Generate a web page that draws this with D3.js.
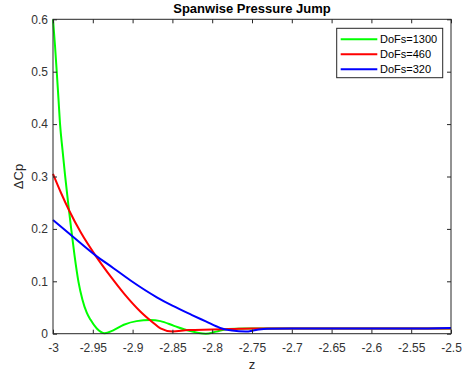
<!DOCTYPE html>
<html>
<head>
<meta charset="utf-8">
<script src="https://cdn.jsdelivr.net/npm/d3@7"></script>
<style>
  html, body { margin: 0; padding: 0; background: #fff; }
  svg { display: block; font-family: "Liberation Sans", Arial, Helvetica, sans-serif; }
</style>
</head>
<body>
<svg id="chart" width="462" height="374"></svg>
<script>
// ---- data ----
const zGreen   = [-3.000, -2.9975, -2.9953, -2.9932, -2.9912, -2.988, -2.9849, -2.9807, -2.9773, -2.973, -2.968, -2.963, -2.9576, -2.953, -2.945, -2.935, -2.925, -2.911, -2.895, -2.878, -2.865, -2.848, -2.83, -2.808, -2.795, -2.78, -2.76, -2.7, -2.65, -2.6, -2.55, -2.5];
const dcpGreen = [0.600, 0.550, 0.500, 0.450, 0.401, 0.350, 0.303, 0.246, 0.202, 0.150, 0.099, 0.065, 0.040, 0.027, 0.010, 0.001, 0.006, 0.017, 0.024, 0.026, 0.024, 0.015, 0.006, 0.000, 0.004, 0.009, 0.010, 0.010, 0.010, 0.010, 0.010, 0.010];

const zRed   = [-3.000, -2.99, -2.98, -2.965, -2.947, -2.926, -2.911, -2.89, -2.875, -2.865, -2.85, -2.83, -2.8, -2.775, -2.75, -2.7, -2.65, -2.6, -2.55, -2.5];
const dcpRed = [0.305, 0.269, 0.236, 0.193, 0.150, 0.106, 0.077, 0.042, 0.022, 0.010, 0.004, 0.007, 0.008, 0.009, 0.010, 0.010, 0.010, 0.010, 0.010, 0.010];

const zBlue   = [-3.000, -2.976, -2.947, -2.924, -2.903, -2.869, -2.85, -2.826, -2.808, -2.79, -2.775, -2.758, -2.745, -2.731, -2.7, -2.65, -2.6, -2.55, -2.5];
const dcpBlue = [0.217, 0.1865, 0.150, 0.125, 0.102, 0.069, 0.0535, 0.036, 0.0235, 0.011, 0.006, 0.004, 0.007, 0.0095, 0.010, 0.010, 0.010, 0.010, 0.011];

const seriesNames  = ["DoFs=1300", "DoFs=460", "DoFs=320"];
const seriesColors = ["#00ff00", "#ff0000", "#0000ff"];

const xTickValues = [-3, -2.95, -2.9, -2.85, -2.8, -2.75, -2.7, -2.65, -2.6, -2.55, -2.5];
const xTickLabels = ["-3", "-2.95", "-2.9", "-2.85", "-2.8", "-2.75", "-2.7", "-2.65", "-2.6", "-2.55", "-2.5"];
const yTickValues = [0, 0.1, 0.2, 0.3, 0.4, 0.5, 0.6];
const yTickLabels = ["0", "0.1", "0.2", "0.3", "0.4", "0.5", "0.6"];

const titleText = "Spanwise Pressure Jump";
const xLabelText = "z";
const yLabelText = "\u0394Cp";

// ---- layout ----
const L = 53, R = 451, T = 19.3, B = 333.7;
const axisColor = "#262626";

const svg = d3.select("#chart");
const x = d3.scaleLinear().domain([-3, -2.5]).range([L, R]);
const y = d3.scaleLinear().domain([0, 0.6]).range([B, T]);

svg.append("rect").attr("x", L).attr("y", T).attr("width", R - L).attr("height", B - T).attr("fill", "#fff");

// curves
const series = [
  { z: zGreen, v: dcpGreen },
  { z: zRed,   v: dcpRed },
  { z: zBlue,  v: dcpBlue }
];
const line = d3.line().x(d => x(d[0])).y(d => y(d[1])).curve(d3.curveMonotoneX);
const plot = svg.append("g");
series.forEach((s, i) => {
  plot.append("path")
    .datum(s.z.map((zz, k) => [zz, s.v[k]]))
    .attr("d", line)
    .attr("fill", "none")
    .attr("stroke", seriesColors[i])
    .attr("stroke-width", 2)
    .attr("stroke-linejoin", "round");
});

// axes
function styleAxis(g) {
  g.select(".domain").remove();
  g.selectAll(".tick line").attr("stroke", axisColor).attr("stroke-width", 1);
  g.selectAll(".tick text").attr("fill", "#333").style("font-size", "12px");
}
svg.append("g").attr("transform", `translate(0,${B})`)
  .call(d3.axisBottom(x).tickValues(xTickValues).tickFormat((d, i) => xTickLabels[i]).tickSizeInner(-4).tickSizeOuter(0).tickPadding(10))
  .call(styleAxis);
svg.append("g").attr("transform", `translate(0,${T})`)
  .call(d3.axisTop(x).tickValues(xTickValues).tickFormat("").tickSizeInner(-4).tickSizeOuter(0))
  .call(styleAxis);
svg.append("g").attr("transform", `translate(${L},0)`)
  .call(d3.axisLeft(y).tickValues(yTickValues).tickFormat((d, i) => yTickLabels[i]).tickSizeInner(-4).tickSizeOuter(0).tickPadding(5))
  .call(styleAxis);
svg.append("g").attr("transform", `translate(${R},0)`)
  .call(d3.axisRight(y).tickValues(yTickValues).tickFormat("").tickSizeInner(-4).tickSizeOuter(0))
  .call(styleAxis);

// box
svg.append("rect").attr("x", L).attr("y", T).attr("width", R - L).attr("height", B - T)
  .attr("fill", "none").attr("stroke", axisColor).attr("stroke-width", 1);

// title & labels
svg.append("text").attr("x", (L + R) / 2).attr("y", 13).attr("text-anchor", "middle")
  .style("font-size", "13px").style("font-weight", "bold").attr("fill", "#000").text(titleText);
svg.append("text").attr("x", (L + R) / 2).attr("y", 369).attr("text-anchor", "middle")
  .style("font-size", "13px").attr("fill", axisColor).text(xLabelText);
svg.append("text").attr("transform", `translate(23,${(T + B) / 2}) rotate(-90)`).attr("text-anchor", "middle")
  .style("font-size", "13px").attr("fill", axisColor).text(yLabelText);

// legend
const lg = svg.append("g");
lg.append("rect").attr("x", 336.7).attr("y", 28.3).attr("width", 106).attr("height", 49.4)
  .attr("fill", "#fff").attr("stroke", axisColor).attr("stroke-width", 1);
seriesNames.forEach((name, i) => {
  const yy = 39.3 + i * 15;
  lg.append("line").attr("x1", 340.7).attr("x2", 377.3).attr("y1", yy).attr("y2", yy)
    .attr("stroke", seriesColors[i]).attr("stroke-width", 2);
  lg.append("text").attr("x", 380).attr("y", yy).attr("dy", "0.35em")
    .style("font-size", "11px").attr("fill", "#000").text(name);
});
</script>
</body>
</html>
